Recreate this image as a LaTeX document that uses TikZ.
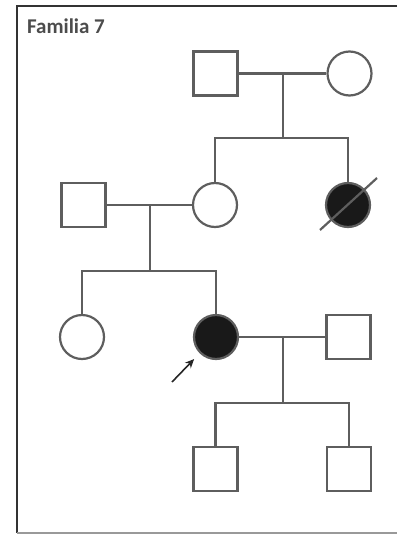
\documentclass[tikz,border=0pt]{standalone}
\usepackage{fontspec}
\setmainfont{Carlito}
\usetikzlibrary{arrows.meta,positioning}

\definecolor{pedline}{HTML}{5E5E5E}
\definecolor{frameline}{HTML}{333333}

\tikzset{
 male/.style={draw=pedline, rectangle, minimum size=44pt, inner sep=0pt, fill=white},
 female/.style={draw=pedline, circle, minimum size=44pt, inner sep=0pt, fill=white},
 affected/.style={fill=black!90},
}

\begin{document}
\begin{tikzpicture}[x=1pt, y=-1pt, line width=2.2pt]
\useasboundingbox (0,0) rectangle (397,535);

% Frame
\draw[frameline, line width=2.4pt] (397,6) -- (17,6) -- (17,533);
\draw[gray!80, line width=2.2pt] (17,533) -- (397,533);
\node[anchor=base west, text=black!70, font=\bfseries\fontsize{21}{24}\selectfont, inner sep=0pt] (title) at (26,34) {Familia 7};

% Generation I
\node[male] (I1) at (215.5,73.5) {};
\node[female] (I2) at (349.5,73.5) {};

% Generation II
\node[male] (II1) at (83.5,205) {};
\node[female] (II2) at (215,205) {};
\node[female, affected] (II3) at (348,205) {};

% Generation III
\node[female] (III1) at (82,337) {};
\node[female, affected] (III2) at (216,337) {};
\node[male] (III3) at (348.5,337) {};

% Generation IV
\node[male] (IV1) at (215.5,469) {};
\node[male] (IV2) at (349,469) {};

% Couples and sibships
\coordinate (m1) at (283,73.5);
\coordinate (s1) at (283,138);
\draw[pedline] (I1.east) -- (I2.west);
\draw[pedline] (m1) -- (s1);
\draw[pedline] (II2.north) |- (s1) -| (II3.north);

\coordinate (m2) at (150,205);
\coordinate (s2) at (150,271);
\draw[pedline] (II1.east) -- (II2.west);
\draw[pedline] (m2) -- (s2);
\draw[pedline] (III1.north) |- (s2) -| (III2.north);

\coordinate (m3) at (283,337);
\coordinate (s3) at (283,403);
\draw[pedline] (III2.east) -- (III3.west);
\draw[pedline] (m3) -- (s3);
\draw[pedline] (IV1.north) |- (s3) -| (IV2.north);

% Deceased
\draw[pedline] ([shift={(-28,25)}]II3.center) -- ([shift={(29,-27)}]II3.center);

% Proband
\coordinate (pa) at (172,382);
\draw[-{Stealth[length=9pt,width=8pt]}, black!85, line width=1.6pt, shorten >=8pt] (pa) -- (III2.south west);
\end{tikzpicture}
\end{document}
